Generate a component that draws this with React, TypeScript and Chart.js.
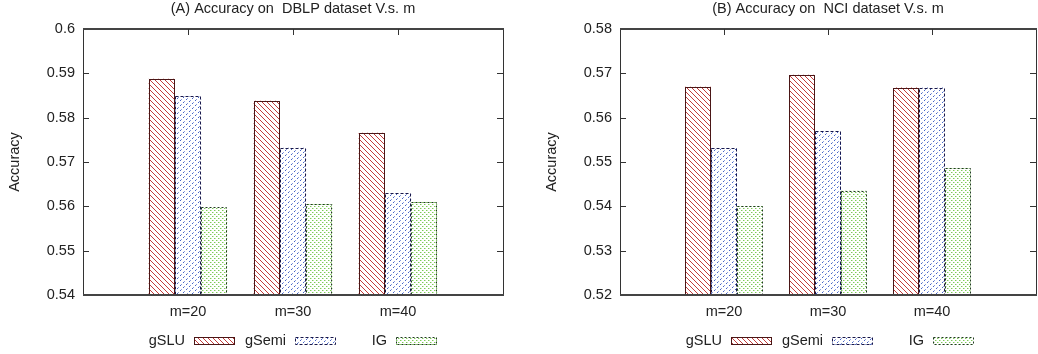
import React, { useEffect, useRef } from 'react';
import { Chart, registerables } from 'chart.js';

Chart.register(...registerables);

// ---------- data ----------
const categories = ['m=20', 'm=30', 'm=40'];
const seriesNames = ['gSLU', 'gSemi', 'IG'];

const dblpGSLU = [0.5888, 0.5838, 0.5766];
const dblpGSemi = [0.5848, 0.5732, 0.5629];
const dblpIG = [0.5598, 0.5605, 0.561];

const nciGSLU = [0.567, 0.5697, 0.5668];
const nciGSemi = [0.5531, 0.5569, 0.5668];
const nciIG = [0.5401, 0.5435, 0.5486];

const dblpTicks = [0.54, 0.55, 0.56, 0.57, 0.58, 0.59, 0.6];
const dblpTickLabels = ['0.54', '0.55', '0.56', '0.57', '0.58', '0.59', '0.6'];
const nciTicks = [0.52, 0.53, 0.54, 0.55, 0.56, 0.57, 0.58];
const nciTickLabels = ['0.52', '0.53', '0.54', '0.55', '0.56', '0.57', '0.58'];

const titleA = '(A) Accuracy on  DBLP dataset V.s. m';
const titleB = '(B) Accuracy on  NCI dataset V.s. m';
const yTitle = 'Accuracy';

// ---------- styles ----------
const FONT = '"Liberation Sans", Arial, Helvetica, sans-serif';
const FSIZE = 14.5;
const TEXT = '#222222';
const AXIS = '#333333';

function makePattern(kind: string): CanvasPattern | string {
  const c = document.createElement('canvas');
  const n = 60;
  c.width = n;
  c.height = n;
  const ctx = c.getContext('2d');
  if (!ctx) return '#fff';
  ctx.fillStyle = '#ffffff';
  ctx.fillRect(0, 0, n, n);
  for (let y = 0; y < n; y++) {
    for (let x = 0; x < n; x++) {
      if (kind === 'red') {
        if ((((x - y) % 5) + 5) % 5 === 0) {
          ctx.fillStyle = '#c33b3b';
          ctx.fillRect(x, y, 1, 1);
        }
      } else if (kind === 'blue') {
        if ((x + y) % 5 === 0 && x % 3 !== 2) {
          ctx.fillStyle = x % 3 === 0 ? '#4463c8' : '#8ea0dc';
          ctx.fillRect(x, y, 1, 1);
        }
      } else {
        if ((x % 4 === 0 && y % 4 === 0) || (x % 4 === 2 && y % 4 === 2)) {
          ctx.fillStyle = '#7cc956';
          ctx.fillRect(x, y, 1, 1);
        } else if ((x % 4 === 1 && y % 4 === 0) || (x % 4 === 3 && y % 4 === 2)) {
          ctx.fillStyle = '#c4eab0';
          ctx.fillRect(x, y, 1, 1);
        }
      }
    }
  }
  const p = ctx.createPattern(c, 'repeat');
  return p || '#fff';
}

const borderStyles = [
  { color: '#4a1616', dash: [] as number[] },
  { color: '#17174a', dash: [3, 2] },
  { color: '#1f3a1f', dash: [2, 2] },
];

type Props = {
  title: string;
  values: number[][];
  ticks: number[];
  tickLabels: string[];
  plotLeft: number;
  plotRight: number;
  canvasWidth: number;
  yTitlePad: number;
};

function BarPanel(props: Props) {
  const ref = useRef<HTMLCanvasElement | null>(null);
  useEffect(() => {
    const canvas = ref.current;
    if (!canvas) return;
    const patterns = [makePattern('red'), makePattern('blue'), makePattern('green')];
    const labels = ['', ...categories, ''];
    const datasets = props.values.map((vals, i) => ({
      label: seriesNames[i],
      data: [null, ...vals, null] as (number | null)[],
      backgroundColor: patterns[i] as any,
      borderWidth: 0,
      categoryPercentage: 0.75,
      barPercentage: 1.0,
    }));
    const ticks = props.ticks;
    const tickLabels = props.tickLabels;
    const ymin = ticks[0];
    const ymax = ticks[ticks.length - 1];

    const decor = {
      id: 'decor',
      afterDatasetsDraw(chart: any) {
        const ctx = chart.ctx as CanvasRenderingContext2D;
        const area = chart.chartArea;
        const xs = chart.scales.x;
        const ys = chart.scales.y;
        // bar outlines
        chart.data.datasets.forEach((d: any, di: number) => {
          const meta = chart.getDatasetMeta(di);
          const st = borderStyles[di];
          meta.data.forEach((el: any, idx: number) => {
            if (d.data[idx] == null) return;
            const p = el.getProps(['x', 'y', 'base', 'width'], true);
            if (!Number.isFinite(p.y) || !Number.isFinite(p.x)) return;
            const left = p.x - p.width / 2;
            const base = Math.min(p.base, area.bottom);
            ctx.save();
            ctx.strokeStyle = st.color;
            ctx.lineWidth = 1;
            ctx.setLineDash(st.dash);
            ctx.strokeRect(Math.round(left) + 0.5, Math.round(p.y) + 0.5, Math.round(p.width) - 1, Math.round(base - p.y));
            ctx.restore();
          });
        });
        // frame
        ctx.save();
        ctx.strokeStyle = AXIS;
        ctx.lineWidth = 1;
        ctx.beginPath();
        ctx.moveTo(Math.round(area.left) + 0.5, area.top);
        ctx.lineTo(Math.round(area.left) + 0.5, area.bottom);
        ctx.moveTo(Math.round(area.right) + 0.5, area.top);
        ctx.lineTo(Math.round(area.right) + 0.5, area.bottom);
        ctx.stroke();
        ctx.strokeStyle = '#444444';
        ctx.lineWidth = 2;
        ctx.beginPath();
        ctx.moveTo(area.left, Math.round(area.top));
        ctx.lineTo(area.right + 1, Math.round(area.top));
        ctx.moveTo(area.left, Math.round(area.bottom));
        ctx.lineTo(area.right + 1, Math.round(area.bottom));
        ctx.stroke();
        // ticks
        ctx.strokeStyle = AXIS;
        ctx.lineWidth = 1;
        ctx.beginPath();
        ticks.forEach((t, i) => {
          if (i === 0 || i === ticks.length - 1) return;
          const y = Math.round(ys.getPixelForValue(t)) + 0.5;
          ctx.moveTo(area.left, y);
          ctx.lineTo(area.left + 6, y);
          ctx.moveTo(area.right, y);
          ctx.lineTo(area.right - 6, y);
        });
        categories.forEach((_c, i) => {
          const x = Math.round(xs.getPixelForValue(i + 1)) + 0.5;
          ctx.moveTo(x, area.top);
          ctx.lineTo(x, area.top + 6);
        });
        ctx.stroke();
        ctx.restore();
      },
      afterDraw(chart: any) {
        const ctx = chart.ctx as CanvasRenderingContext2D;
        const area = chart.chartArea;
        ctx.save();
        ctx.font = `${FSIZE}px ${FONT}`;
        ctx.fillStyle = TEXT;
        ctx.textBaseline = 'middle';
        ctx.textAlign = 'center';
        ctx.fillText(props.title, (area.left + area.right) / 2, 9);
        // legend
        const ly = 341;
        seriesNames.forEach((name, i) => {
          const textRight = area.left + 102 + i * 101;
          ctx.textAlign = 'right';
          ctx.fillStyle = TEXT;
          ctx.fillText(name, textRight, ly);
          const sx = textRight + 9;
          ctx.fillStyle = patterns[i] as any;
          ctx.fillRect(sx, 338, 41, 7);
          ctx.strokeStyle = borderStyles[i].color;
          ctx.lineWidth = 1;
          ctx.setLineDash(borderStyles[i].dash);
          ctx.strokeRect(sx + 0.5, 337.5, 40, 7);
          ctx.setLineDash([]);
        });
        ctx.restore();
      },
    };

    const chart = new Chart(canvas, {
      type: 'bar',
      data: { labels, datasets: datasets as any },
      options: {
        animation: false,
        responsive: false,
        maintainAspectRatio: false,
        layout: { padding: { left: 0, right: props.canvasWidth - props.plotRight, top: 29, bottom: 0 } },
        plugins: {
          legend: { display: false },
          tooltip: { enabled: false },
          title: { display: false },
        },
        scales: {
          x: {
            type: 'category',
            offset: false,
            grid: { display: false, drawTicks: false },
            border: { display: false },
            ticks: {
              autoSkip: false,
              maxRotation: 0,
              minRotation: 0,
              padding: 8,
              color: TEXT,
              font: { family: FONT, size: FSIZE },
            },
            afterFit: (s: any) => {
              s.height = 354 - 295;
            },
          },
          y: {
            type: 'linear',
            min: ymin,
            max: ymax,
            grid: { display: false, drawTicks: false },
            border: { display: false },
            afterBuildTicks: (s: any) => {
              s.ticks = ticks.map((v) => ({ value: v }));
            },
            ticks: {
              padding: 8,
              color: TEXT,
              font: { family: FONT, size: FSIZE },
              callback: (_v: any, i: number) => tickLabels[i],
            },
            title: {
              display: true,
              text: yTitle,
              color: TEXT,
              font: { family: FONT, size: FSIZE },
              padding: { top: props.yTitlePad, bottom: 0 },
            },
            afterFit: (s: any) => {
              s.width = props.plotLeft;
            },
          },
        },
      },
      plugins: [decor],
    });
    return () => chart.destroy();
  }, []);
  return <canvas ref={ref} width={props.canvasWidth} height={354} style={{ display: 'block', width: props.canvasWidth, height: 354 }} />;
}

export default function App() {
  return (
    <div style={{ position: 'fixed', left: 0, top: 0, width: 1038, height: 354, overflow: 'hidden', background: '#fff' }}>
      <div style={{ position: 'absolute', left: 0, top: 0 }}>
        <BarPanel
          title={titleA}
          values={[dblpGSLU, dblpGSemi, dblpIG]}
          ticks={dblpTicks}
          tickLabels={dblpTickLabels}
          plotLeft={83}
          plotRight={503}
          canvasWidth={519}
          yTitlePad={6.3}
        />
      </div>
      <div style={{ position: 'absolute', left: 519, top: 0 }}>
        <BarPanel
          title={titleB}
          values={[nciGSLU, nciGSemi, nciIG]}
          ticks={nciTicks}
          tickLabels={nciTickLabels}
          plotLeft={101}
          plotRight={521}
          canvasWidth={525}
          yTitlePad={24.3}
        />
      </div>
    </div>
  );
}
